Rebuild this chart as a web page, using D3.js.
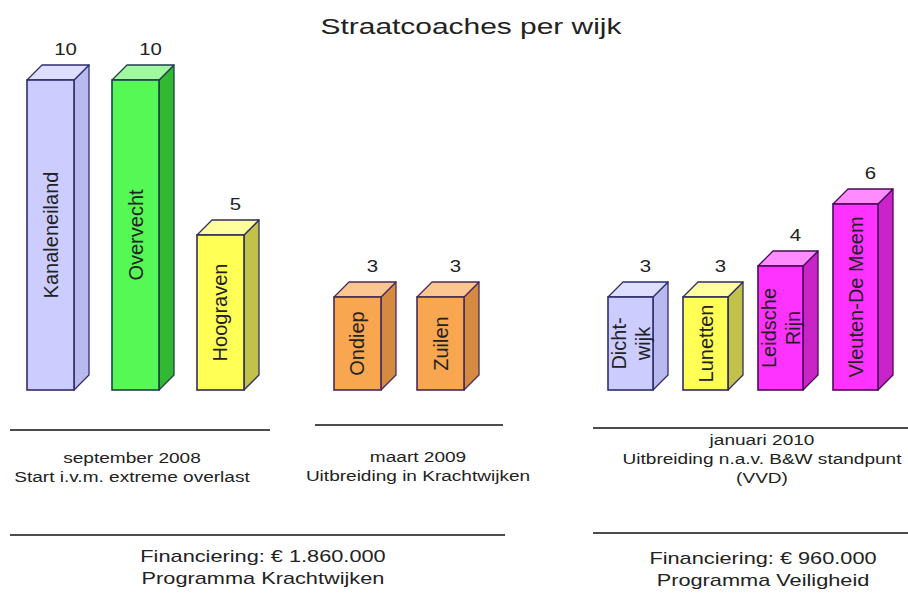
<!DOCTYPE html>
<html>
<head>
<meta charset="utf-8">
<script src="https://cdn.jsdelivr.net/npm/d3@7"></script>
<style>
  body { margin: 0; background: #fff; }
  text { font-family: "Liberation Sans", Arial, sans-serif; fill: #222; }
</style>
</head>
<body>
<svg id="chart"></svg>
<script>
// data
var wijken = ["Kanaleneiland", "Overvecht", "Hoograven", "Ondiep", "Zuilen",
  "Dichtwijk", "Lunetten", "Leidsche Rijn", "Vleuten-De Meem"];
var aantallen = [10, 10, 5, 3, 3, 3, 3, 4, 6];
var fase = [0, 0, 0, 1, 1, 2, 2, 2, 2];
var barTekst = [["Kanaleneiland"], ["Overvecht"], ["Hoograven"], ["Ondiep"], ["Zuilen"],
  ["Dicht-", "wijk"], ["Lunetten"], ["Leidsche", "Rijn"], ["Vleuten-De Meem"]];
var faseTekst = [
  ["september 2008", "Start i.v.m. extreme overlast"],
  ["maart 2009", "Uitbreiding in Krachtwijken"],
  ["januari 2010", "Uitbreiding n.a.v. B&W standpunt", "(VVD)"]
];
var financiering = [
  ["Financiering: € 1.860.000", "Programma Krachtwijken"],
  ["Financiering: € 960.000", "Programma Veiligheid"]
];
var titel = "Straatcoaches per wijk";

// layout + style
var width = 908, height = 594;
var dx = 15, dy = 15;   // depth of the 3d boxes
var sx = 1.36;          // horizontal text stretch of the original
var groupRange = [[27, 244], [334, 464], [608, 878]];
var groupPad = [0.447, 0.434, 0.4];
var palet = {
  lila:    { front: "#ccccff", top: "#dedeff", side: "#b9b9f0", edge: "#2e2e6e" },
  groen:   { front: "#55f855", top: "#a0f8a0", side: "#33b833", edge: "#1f3f4f" },
  geel:    { front: "#ffff55", top: "#ffff9e", side: "#c2c24a", edge: "#2e2e5e" },
  oranje:  { front: "#f8a650", top: "#fcc690", side: "#d48a40", edge: "#4a2a5a" },
  magenta: { front: "#ff33ff", top: "#ff8cff", side: "#c824c8", edge: "#4a0a5a" }
};
var barKleur = ["lila", "groen", "geel", "oranje", "oranje", "lila", "geel", "magenta", "magenta"];

var svg = d3.select("#chart")
  .attr("width", width)
  .attr("height", height);

var y = d3.scaleLinear().domain([0, 10]).range([390, 80]);

// one band scale per phase
var xs = groupRange.map(function (r, g) {
  var names = wijken.filter(function (w, i) { return fase[i] === g; });
  return d3.scaleBand().domain(names).range(r).paddingInner(groupPad[g]).paddingOuter(0);
});

var bars = wijken.map(function (w, i) {
  var x = xs[fase[i]];
  return { naam: w, waarde: aantallen[i], x: x(w), bw: x.bandwidth(),
    kleur: palet[barKleur[i]], tekst: barTekst[i] };
});

function hText(sel, txt, cx, cy, size) {
  sel.append("text")
    .attr("transform", "translate(" + cx + "," + cy + ") scale(" + sx + ",1)")
    .attr("text-anchor", "middle")
    .style("font-size", size + "px")
    .text(txt);
}

// title
hText(svg, titel, 471, 34, 22);

var g = svg.selectAll("g.bar")
  .data(bars)
  .enter()
  .append("g")
  .attr("class", "bar");

var base = y(0);

g.append("path")
  .attr("d", function (d) {
    var t = y(d.waarde);
    return "M" + (d.x + d.bw) + "," + t + "L" + (d.x + d.bw + dx) + "," + (t - dy) +
      "L" + (d.x + d.bw + dx) + "," + (base - dy) + "L" + (d.x + d.bw) + "," + base + "Z";
  })
  .attr("fill", function (d) { return d.kleur.side; })
  .attr("stroke", function (d) { return d.kleur.edge; })
  .attr("stroke-width", 1.3)
  .attr("stroke-linejoin", "round");

g.append("path")
  .attr("d", function (d) {
    var t = y(d.waarde);
    return "M" + d.x + "," + t + "L" + (d.x + dx) + "," + (t - dy) +
      "L" + (d.x + d.bw + dx) + "," + (t - dy) + "L" + (d.x + d.bw) + "," + t + "Z";
  })
  .attr("fill", function (d) { return d.kleur.top; })
  .attr("stroke", function (d) { return d.kleur.edge; })
  .attr("stroke-width", 1.3)
  .attr("stroke-linejoin", "round");

g.append("rect")
  .attr("x", function (d) { return d.x; })
  .attr("y", function (d) { return y(d.waarde); })
  .attr("width", function (d) { return d.bw; })
  .attr("height", function (d) { return base - y(d.waarde); })
  .attr("fill", function (d) { return d.kleur.front; })
  .attr("stroke", function (d) { return d.kleur.edge; })
  .attr("stroke-width", 1.6);

// value labels above the back face
g.append("text")
  .attr("transform", function (d) {
    return "translate(" + (d.x + dx + d.bw / 2) + "," + (y(d.waarde) - dy - 10) + ") scale(1.2,1)";
  })
  .attr("text-anchor", "middle")
  .style("font-size", "17px")
  .text(function (d) { return d.waarde; });

// rotated names in the bars
g.each(function (d) {
  var cx = d.x + d.bw / 2, cy = (y(d.waarde) + base) / 2;
  var n = d.tekst.length, lh = 24;
  var t = d3.select(this).append("text")
    .attr("transform", "translate(" + cx + "," + cy + ") rotate(-90)")
    .attr("text-anchor", "middle")
    .style("font-size", "20px");
  d.tekst.forEach(function (line, k) {
    t.append("tspan")
      .attr("x", 0)
      .attr("y", (k - (n - 1) / 2) * lh + 7)
      .text(line);
  });
});

// phase separators and captions
var faseLijn = [[10, 270, 430], [315, 503, 425], [593, 908, 428]];
var faseCx = [132, 418, 762];
var faseY0 = [463, 462, 445];
faseLijn.forEach(function (l, i) {
  svg.append("line").attr("x1", l[0]).attr("x2", l[1]).attr("y1", l[2]).attr("y2", l[2])
    .attr("stroke", "#111").attr("stroke-width", 1.5);
  faseTekst[i].forEach(function (t, k) {
    hText(svg, t, faseCx[i], faseY0[i] + k * 19, 14);
  });
});

// financing
var finLijn = [[10, 505, 535], [593, 908, 533]];
var finCx = [263, 763];
var finY0 = [562, 564];
finLijn.forEach(function (l, i) {
  svg.append("line").attr("x1", l[0]).attr("x2", l[1]).attr("y1", l[2]).attr("y2", l[2])
    .attr("stroke", "#111").attr("stroke-width", 1.5);
  financiering[i].forEach(function (t, k) {
    hText(svg, t, finCx[i], finY0[i] + k * 22, 16);
  });
});
</script>
</body>
</html>
